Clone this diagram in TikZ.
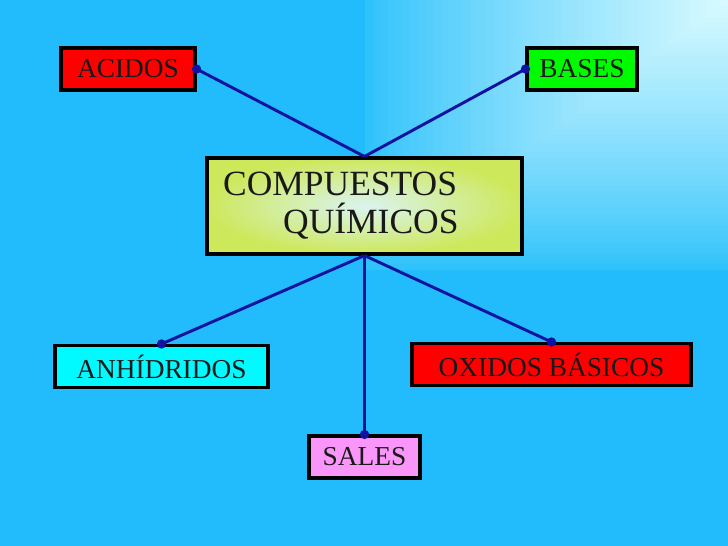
\documentclass[tikz,border=0pt]{standalone}
\usepackage{fontspec}
\setmainfont{Liberation Serif}
\usetikzlibrary{positioning}

\definecolor{bgblue}{RGB}{34,187,252}
\definecolor{bgedge}{RGB}{48,194,251}
\definecolor{glowblue}{RGB}{218,250,255}
\definecolor{lineblue}{RGB}{18,18,160}
\definecolor{acidred}{RGB}{255,0,0}
\definecolor{basegreen}{RGB}{0,250,0}
\definecolor{anhcyan}{RGB}{0,250,255}
\definecolor{salpink}{RGB}{250,150,250}
\definecolor{compgreen}{RGB}{206,232,92}
\definecolor{compglow}{RGB}{218,244,240}

\begin{document}
\begin{tikzpicture}[
    x=0.75pt, y=-0.75pt,
    % Concept box style
    conceptbox/.style={
        rectangle,
        draw=black,
        line width=2.3pt,
        inner sep=0pt,
        minimum height=31.5pt,
        font=\fontsize{20.5}{24}\selectfont,
        text=black!90
    },
    % Connector style
    link/.style={
        draw=lineblue,
        line width=2.2pt
    },
    % End dot style
    enddot/.style={
        fill=lineblue
    }
]
\useasboundingbox (0,0) rectangle (728,546);

% === Background ===
\fill[bgblue] (0,0) rectangle (728,546);
\foreach \i in {0,...,47} {
    \pgfmathsetmacro{\t}{\i/48}
    \pgfmathsetmacro{\p}{100*(\t^0.85)}
    \fill[glowblue!\p!bgedge] (365+363*\t, 0) rectangle (728, 270-270*\t);
}

% === Central concept ===
\node[conceptbox, minimum width=236.25pt, minimum height=72pt,
      inner color=compglow, outer color=compgreen,
      text width=212pt, inner xsep=12pt, align=left,
      font=\fontsize{26.6}{28.5}\selectfont]
      (comp) at (364.5, 206) {COMPUESTOS\\\hspace*{45pt}QUÍMICOS};

% === Top row ===
\node[conceptbox, fill=acidred, minimum width=100.5pt] (acidos) at (128, 69) {ACIDOS};
\node[conceptbox, fill=basegreen, minimum width=82.5pt] (bases) at (582, 69) {BASES};

% === Bottom row ===
\node[conceptbox, fill=anhcyan, minimum width=159.75pt] (anhidridos) at (161.5, 366.5) {ANHÍDRIDOS};
\node[conceptbox, fill=acidred, minimum width=209.25pt] (oxidos) at (551.5, 364.5) {OXIDOS BÁSICOS};
\node[conceptbox, fill=salpink, minimum width=83.25pt] (sales) at (364.5, 457) {SALES};

% === Connectors ===
\draw[link] (comp.north) -- (acidos.east);
\draw[link] (comp.north) -- (bases.west);
\draw[link] (comp.south) -- (anhidridos.north);
\draw[link] (comp.south) -- (sales.north);
\draw[link] (comp.south) -- (oxidos.north);

% end dots
\fill[enddot] (acidos.east) circle[radius=3.5pt];
\fill[enddot] (bases.west) circle[radius=3.5pt];
\fill[enddot] (anhidridos.north) circle[radius=3.5pt];
\fill[enddot] (sales.north) circle[radius=3.5pt];
\fill[enddot] (oxidos.north) circle[radius=3.5pt];

\end{tikzpicture}
\end{document}
